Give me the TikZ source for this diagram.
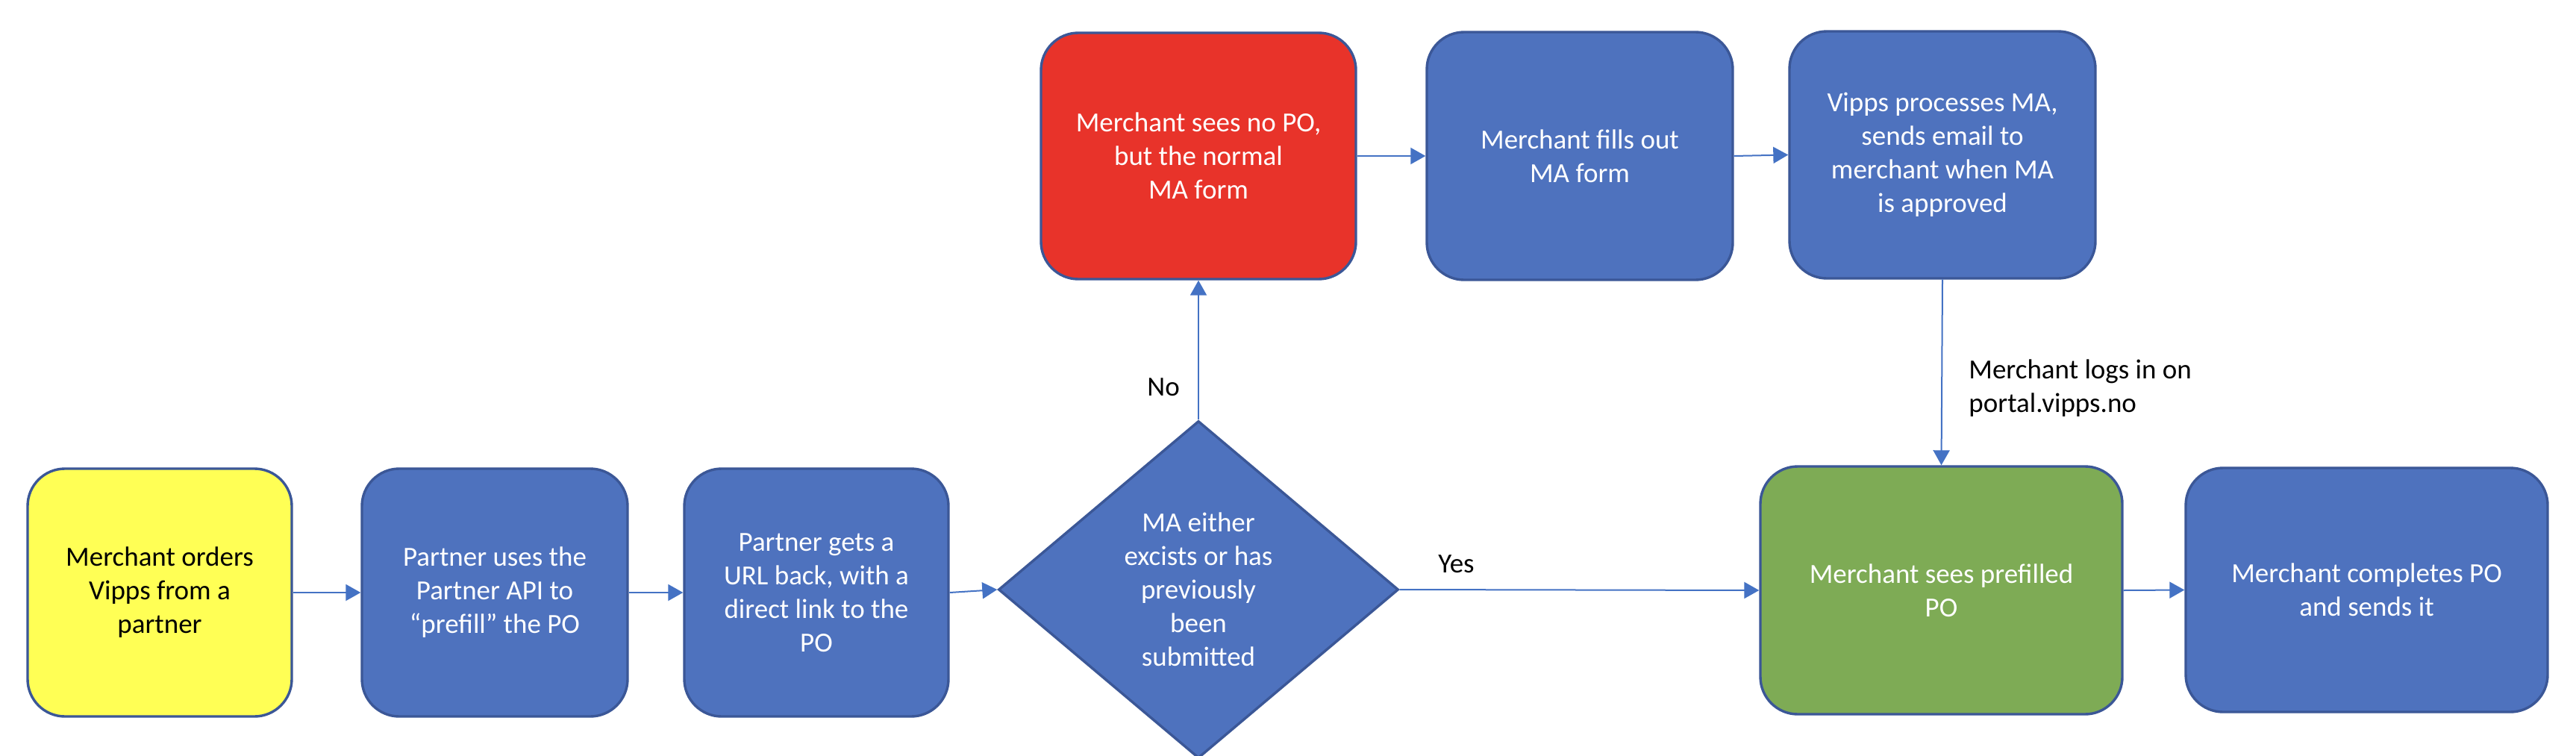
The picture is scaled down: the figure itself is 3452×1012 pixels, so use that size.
\documentclass[tikz,border=0pt]{standalone}
\usepackage{fontspec}
\setmainfont{Carlito}
\usetikzlibrary{shapes.geometric,arrows.meta}
\definecolor{boxblue}{HTML}{4E72BE}
\definecolor{boxline}{HTML}{3B5797}
\definecolor{boxred}{HTML}{E8332A}
\definecolor{boxyellow}{HTML}{FFFF55}
\definecolor{boxgreen}{HTML}{7EAB55}
\definecolor{arrowblue}{HTML}{4472C4}
\begin{document}
\begin{tikzpicture}[x=0.5pt,y=-0.5pt,
  txt/.style={font=\fontsize{18.5pt}{22.5pt}\selectfont},
  box/.style={txt, rectangle, rounded corners=25pt, draw=boxline, line width=1.7pt,
    fill=boxblue, text=white, align=center, inner sep=0pt, minimum height=166pt},
  smallbox/.style={box, minimum width=177pt},
  topbox/.style={box, minimum width=205pt},
  widebox/.style={box, minimum width=242.5pt},
  conn/.style={draw=arrowblue, line width=1pt, -{Triangle[length=10pt,width=11pt]}},
  lbl/.style={txt, text=black, inner sep=0pt, align=left}]
\useasboundingbox (0,0) rectangle (3452,1012);
\fill[white] (0,0) rectangle (3452,1012);

\node[smallbox, fill=boxyellow, text=black] (order) at (214,794) {Merchant orders\\Vipps from a\\partner};
\node[smallbox, minimum width=178pt] (api) at (663,794) {Partner uses the\\Partner API to\\“prefill” the PO};
\node[smallbox] (url) at (1094,794) {Partner gets a\\URL back, with a\\direct link to the\\PO};
\node[diamond, draw=boxline, fill=boxblue, line width=1.7pt, inner sep=0pt,
  minimum width=268pt, minimum height=226pt,
  label={[txt, text=white, align=center]center:MA either\\excists or has\\previously\\been\\submitted}] (dia) at (1606,790) {};
\node[box, fill=boxred, minimum width=211pt, minimum height=165pt] (nopo) at (1606,209) {Merchant sees no PO,\\but the normal\\MA form};
\node[topbox] (fill) at (2117,209) {Merchant fills out\\MA form};
\node[topbox, minimum height=165.5pt] (proc) at (2603,207.5) {Vipps processes MA,\\sends email to\\merchant when MA\\is approved};
\node[widebox, fill=boxgreen] (pre) at (2601.5,791) {Merchant sees prefilled\\PO};
\node[widebox, minimum height=163.5pt] (done) at (3171.5,790.5) {Merchant completes PO\\and sends it};

\draw[conn] (order) -- (api);
\draw[conn] (api) -- (url);
\draw[conn] (url.east) -- (dia.west);
\draw[conn] (dia.north) -- (nopo.south);
\draw[conn] (nopo) -- (fill);
\draw[conn] (fill.east) -- (proc.west);
\draw[conn] (proc.south) -- (pre.north);
\draw[conn] (dia.east) -- (pre.west);
\draw[conn] (pre.east) -- (done.west);

\node[lbl, anchor=base west] (no) at (1537,530) {No};
\node[lbl, anchor=base west] (yes) at (1927,767) {Yes};
\node[lbl, anchor=north west] (logs) at (2638,481) {Merchant logs in on\\portal.vipps.no};
\end{tikzpicture}
\end{document}
